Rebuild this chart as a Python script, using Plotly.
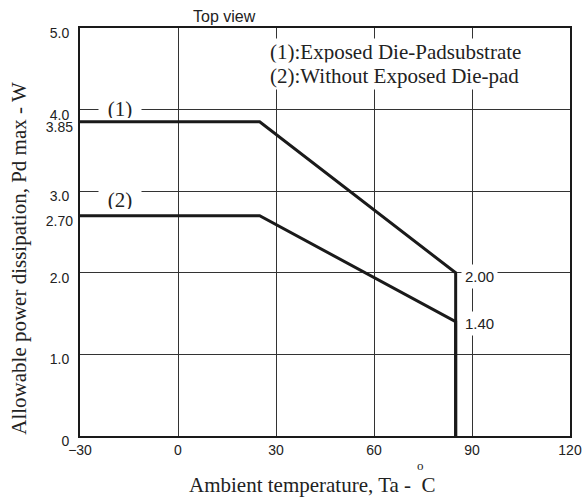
import plotly.graph_objects as go

# ---- data ----
temp_curve1 = [-30, 25, 85, 85]
power_curve1 = [3.85, 3.85, 2.00, 0.0]
temp_curve2 = [-30, 25, 85, 85]
power_curve2 = [2.70, 2.70, 1.40, 0.0]

x_tick_vals = [-30, 0, 30, 60, 90, 120]
x_tick_text = ["\u221230", "0", "30", "60", "90", "120"]
y_tick_vals = [0, 1, 2, 3, 4, 5]
y_tick_text = ["0", "1.0", "2.0", "3.0", "4.0", "5.0"]
y_extra_vals = [2.70, 3.85]
y_extra_text = ["2.70", "3.85"]

SANS = "Liberation Sans, Arial, sans-serif"
SERIF = "Liberation Serif, Times New Roman, serif"
INK = "#1a1a1a"

fig = go.Figure()
for xs, ys in [(temp_curve1, power_curve1), (temp_curve2, power_curve2)]:
    fig.add_trace(go.Scatter(x=xs, y=ys, mode="lines",
                             line=dict(color=INK, width=3),
                             showlegend=False, hoverinfo="skip"))
fig.add_trace(go.Scatter(x=[None], y=[None], yaxis="y2", showlegend=False))

fig.update_layout(
    width=584, height=497,
    margin=dict(l=80, r=14, t=28, b=61, autoexpand=False),
    paper_bgcolor="white", plot_bgcolor="white",
    xaxis=dict(range=[-30, 120], tickvals=x_tick_vals, ticktext=x_tick_text,
               showgrid=True, gridcolor="#333", gridwidth=1, zeroline=False,
               showline=True, linecolor=INK, linewidth=2, mirror=True,
               automargin=False, ticks="", ticklabeloverflow="allow",
               tickfont=dict(family=SANS, size=14, color="#222")),
    yaxis=dict(range=[0, 5], tickvals=y_tick_vals, ticktext=y_tick_text,
               showgrid=True, gridcolor="#333", gridwidth=1, zeroline=False,
               showline=True, linecolor=INK, linewidth=2, mirror=True,
               automargin=False, ticks="", ticklabelshift=5, ticklabelstandoff=6,
               tickfont=dict(family=SANS, size=14, color="#222")),
    yaxis2=dict(range=[0, 5], overlaying="y", side="left", anchor="x",
                tickvals=y_extra_vals, ticktext=y_extra_text,
                showgrid=False, zeroline=False, showline=False, automargin=False,
                ticks="", ticklabelshift=5, ticklabelstandoff=6,
                tickfont=dict(family=SANS, size=14, color="#222")),
)

ann = []
ann.append(dict(text="Top view", xref="paper", yref="paper", x=0.294, y=1.027,
                xanchor="center", yanchor="middle", showarrow=False,
                font=dict(family=SANS, size=16, color="#222")))
ann.append(dict(text="(1):Exposed Die-Padsubstrate", xref="x", yref="y",
                x=27.5, y=4.71, xanchor="left", yanchor="middle", showarrow=False,
                bgcolor="white", borderpad=1,
                font=dict(family=SERIF, size=21, color="#222")))
ann.append(dict(text="(2):Without Exposed Die-pad", xref="x", yref="y",
                x=27.5, y=4.41, xanchor="left", yanchor="middle", showarrow=False,
                bgcolor="white", borderpad=1,
                font=dict(family=SERIF, size=21, color="#222")))
ann.append(dict(text="(1)", xref="x", yref="y", x=-17.75, y=4.01,
                xanchor="center", yanchor="middle", showarrow=False,
                bgcolor="white", borderpad=0, width=42, height=18,
                font=dict(family=SERIF, size=21, color="#222")))
ann.append(dict(text="(2)", xref="x", yref="y", x=-17.9, y=2.89,
                xanchor="center", yanchor="middle", showarrow=False,
                bgcolor="white", borderpad=0, width=42, height=18,
                font=dict(family=SERIF, size=21, color="#222")))
ann.append(dict(text="2.00", xref="x", yref="y", x=85, y=1.95,
                xanchor="left", yanchor="middle", showarrow=False, xshift=5,
                bgcolor="white", borderpad=3,
                font=dict(family=SANS, size=15, color="#222")))
ann.append(dict(text="1.40", xref="x", yref="y", x=85, y=1.38,
                xanchor="left", yanchor="middle", showarrow=False, xshift=5,
                bgcolor="white", borderpad=3,
                font=dict(family=SANS, size=15, color="#222")))
ann.append(dict(text="Allowable power dissipation, Pd max - W", xref="paper", yref="paper",
                x=-0.126, y=0.435, textangle=-90, xanchor="center", yanchor="middle",
                showarrow=False, font=dict(family=SERIF, size=21, color="#222")))
ann.append(dict(text="Ambient temperature, Ta -\u00a0\u00a0C", xref="paper", yref="paper",
                x=0.4745, y=-0.12, xanchor="center", yanchor="middle", showarrow=False,
                font=dict(family=SERIF, size=21, color="#222")))
ann.append(dict(text="o", xref="paper", yref="paper", x=0.694, y=-0.0735,
                xanchor="center", yanchor="middle", showarrow=False,
                font=dict(family=SERIF, size=13, color="#222")))
fig.update_layout(annotations=ann)

fig.write_html("out.html", config={"displayModeBar": False},
               post_script="document.body.style.margin='0';document.body.style.overflow='hidden';")
